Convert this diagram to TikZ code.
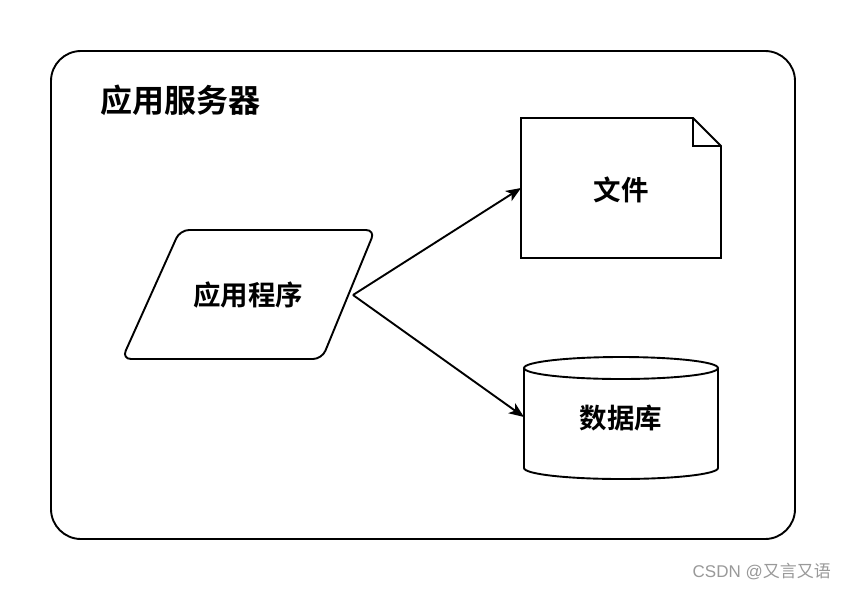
\documentclass[tikz,border=0pt]{standalone}
\usepackage{fontspec}
\setmainfont{Noto Sans CJK SC}
\newfontfamily\cjkb{Noto Sans CJK SC Bold}
\usetikzlibrary{arrows.meta}
\begin{document}
\begin{tikzpicture}[x=1pt,y=-1pt,
  shapeline/.style={draw=black,line width=1.9pt,fill=white},
  lbl/.style={font=\cjkb\fontsize{27.5}{27.5}\selectfont,inner sep=0pt},
  conn/.style={line width=1.9pt,-{Stealth[length=15pt,width=12pt,inset=4pt]}}]
\useasboundingbox (0,0) rectangle (846,590);
\fill[white] (0,0) rectangle (846,590);
% outer container
\draw[line width=1.9pt,rounded corners=30pt] (51,51) rectangle (795,539);
\node[lbl,anchor=west,font=\cjkb\fontsize{32}{32}\selectfont] (title) at (100,100) {应用服务器};
% application parallelogram
\draw[shapeline,rounded corners=9pt] (180,230) -- (375,230) -- (322,359) -- (122,359) -- cycle;
\node[lbl] (app) at (248,295) {应用程序};
% file (document with folded corner)
\draw[shapeline] (521,118) -- (693,118) -- (721,146) -- (721,258) -- (521,258) -- cycle;
\draw[line width=1.9pt] (693,118) -- (693,146) -- (721,146);
\node[lbl] (file) at (621,190) {文件};
% database cylinder
\draw[shapeline] (524,368) -- (524,468) arc[start angle=180,end angle=0,x radius=97,y radius=11] -- (718,368);
\draw[shapeline] (621,368) ellipse[x radius=97,y radius=11];
\node[lbl] (db) at (621,418) {数据库};
% connectors
\coordinate (appR) at (353,295);
\coordinate (fileL) at (521,188);
\coordinate (dbL) at (524,417);
\draw[conn] (appR) -- (fileL);
\draw[conn] (appR) -- (dbL);
% watermark
\node[anchor=east,text=black!40,font=\fontsize{17}{17}\selectfont,inner sep=0pt] (wm) at (831,572) {\fontspec{Liberation Sans}CSDN @\fontspec{Noto Sans CJK SC}又言又语};
\end{tikzpicture}
\end{document}
